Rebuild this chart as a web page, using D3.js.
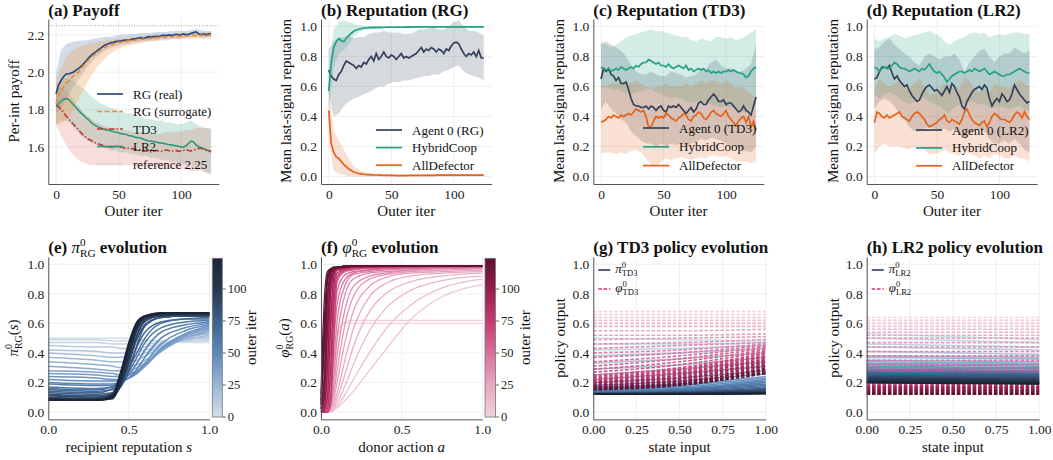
<!DOCTYPE html>
<html>
<head>
<meta charset="utf-8">
<script src="https://d3js.org/d3.v7.min.js"></script>
<style>
  body { margin: 0; background: #fff; }
  text { font-family: "Liberation Serif", "Times New Roman", serif; fill: #111; }
  .axis text { font-size: 13.5px; fill: #222; }
  .axis path.domain { stroke: #555; stroke-width: 1; }
  .grid line { stroke: #ebebeb; stroke-width: 0.8; }
  .title { font-size: 17px; font-weight: bold; }
  .lab { font-size: 15px; }
  .leg { font-size: 13px; }
  .cbt { font-size: 12.5px; fill: #222; }
  .mi { font-weight: normal; font-style: italic; }
  .ms { font-weight: normal; font-style: normal; }
</style>
</head>
<body>
<svg id="fig" width="1053" height="460"></svg>
<script>
// ---------- data: top row (iterations 0..124, lines every 2, bands every 4) ----------
var lineIters = d3.range(0, 125, 2);
var bandIters = d3.range(0, 125, 4);

// (a) payoff
var realA = [1.884,1.93,1.955,1.975,1.99,1.99,1.995,2.0,2.01,2.02,
  2.03,2.045,2.06,2.075,2.09,2.1,2.11,2.12,2.13,2.14,
  2.148,2.152,2.158,2.16,2.165,2.165,2.168,2.17,2.172,2.17,
  2.175,2.178,2.18,2.183,2.185,2.18,2.185,2.19,2.188,2.19,
  2.192,2.19,2.195,2.198,2.195,2.2,2.198,2.2,2.203,2.2,
  2.2,2.205,2.2,2.203,2.208,2.212,2.216,2.206,2.2,2.205,
  2.2,2.205,2.205];
var surA = [1.83,1.87,1.9,1.92,1.94,1.95,1.965,1.98,1.99,2.0,
  2.02,2.035,2.05,2.065,2.08,2.09,2.1,2.11,2.12,2.13,
  2.135,2.14,2.145,2.15,2.155,2.16,2.16,2.163,2.165,2.168,
  2.17,2.17,2.172,2.175,2.175,2.178,2.18,2.18,2.182,2.183,
  2.185,2.185,2.187,2.188,2.188,2.19,2.19,2.19,2.192,2.192,
  2.193,2.193,2.194,2.195,2.195,2.196,2.196,2.197,2.197,2.198,
  2.198,2.198,2.199];
var td3A = [1.82,1.815,1.8,1.785,1.765,1.75,1.735,1.72,1.705,1.69,
  1.675,1.66,1.65,1.64,1.635,1.625,1.62,1.615,1.61,1.605,
  1.6,1.602,1.598,1.6,1.605,1.6,1.598,1.595,1.59,1.592,
  1.588,1.59,1.585,1.582,1.58,1.575,1.578,1.575,1.572,1.575,
  1.58,1.578,1.575,1.578,1.582,1.58,1.575,1.578,1.58,1.575,
  1.578,1.58,1.585,1.58,1.578,1.582,1.585,1.59,1.592,1.588,
  1.585,1.58,1.575];
var lr2A = [1.82,1.83,1.845,1.855,1.858,1.855,1.84,1.825,1.81,1.795,
  1.78,1.77,1.755,1.745,1.73,1.72,1.712,1.705,1.7,1.695,
  1.69,1.688,1.685,1.68,1.678,1.675,1.67,1.668,1.665,1.66,
  1.658,1.655,1.65,1.648,1.645,1.64,1.635,1.632,1.63,1.628,
  1.625,1.622,1.62,1.618,1.615,1.612,1.61,1.608,1.605,1.602,
  1.6,1.598,1.605,1.618,1.63,1.625,1.61,1.6,1.595,1.59,
  1.582,1.578,1.572];
var realLo = [1.78,1.8,1.85,1.9,1.94,1.98,2.02,2.05, 2.08,2.1,2.12,2.13,2.14,2.145,2.15,2.155,
  2.16,2.165,2.165,2.17,2.17,2.175,2.175,2.18, 2.18,2.18,2.185,2.19,2.195,2.185,2.185,2.19];
var realHi = [1.99,2.12,2.15,2.16,2.165,2.17,2.17,2.175, 2.18,2.185,2.19,2.19,2.195,2.2,2.2,2.205,
  2.205,2.21,2.21,2.21,2.215,2.215,2.215,2.22, 2.22,2.22,2.22,2.225,2.23,2.225,2.22,2.22];
var surLo = [1.72,1.72,1.74,1.78,1.83,1.88,1.93,1.98, 2.02,2.05,2.08,2.1,2.12,2.13,2.14,2.145,
  2.15,2.155,2.16,2.165,2.165,2.17,2.17,2.175, 2.175,2.175,2.18,2.18,2.18,2.18,2.18,2.18];
var surHi = [1.94,2.02,2.08,2.11,2.13,2.14,2.15,2.155, 2.16,2.165,2.17,2.175,2.18,2.18,2.185,2.19,
  2.19,2.195,2.195,2.2,2.2,2.2,2.205,2.205, 2.205,2.21,2.21,2.21,2.21,2.215,2.215,2.215];
var td3Lo = [1.72,1.66,1.61,1.57,1.54,1.52,1.51,1.5, 1.5,1.5,1.5,1.5,1.5,1.5,1.5,1.5,
  1.49,1.49,1.49,1.49,1.49,1.48,1.48,1.48, 1.48,1.48,1.48,1.47,1.47,1.47,1.46,1.46];
var td3Hi = [1.9,1.92,1.9,1.87,1.83,1.8,1.77,1.75, 1.73,1.72,1.71,1.7,1.7,1.69,1.69,1.68,
  1.68,1.68,1.67,1.67,1.67,1.67,1.68,1.68, 1.68,1.68,1.69,1.69,1.7,1.7,1.7,1.69];
var lr2Lo = [1.72,1.74,1.74,1.72,1.69,1.66,1.64,1.62, 1.61,1.6,1.59,1.58,1.58,1.57,1.57,1.56,
  1.56,1.55,1.55,1.54,1.54,1.53,1.53,1.52, 1.52,1.51,1.5,1.5,1.49,1.48,1.46,1.45];
var lr2Hi = [1.9,1.95,1.97,1.96,1.94,1.92,1.9,1.87, 1.85,1.83,1.82,1.81,1.8,1.79,1.78,1.78,
  1.77,1.76,1.75,1.75,1.74,1.74,1.73,1.73, 1.72,1.72,1.73,1.74,1.72,1.71,1.7,1.7];
var refPayoff = 2.25;

// (b) reputation RG
var agentB = [0.71,0.67,0.65,0.64,0.68,0.7,0.74,0.77,0.76,0.75,
  0.74,0.72,0.74,0.73,0.76,0.75,0.78,0.8,0.77,0.82,
  0.78,0.8,0.83,0.8,0.79,0.81,0.8,0.78,0.8,0.82,
  0.79,0.8,0.79,0.8,0.81,0.82,0.84,0.86,0.83,0.85,
  0.84,0.86,0.85,0.83,0.85,0.84,0.82,0.85,0.84,0.87,
  0.89,0.895,0.885,0.85,0.82,0.8,0.82,0.81,0.83,0.8,
  0.84,0.79,0.79];
var hybB = [0.57,0.76,0.86,0.9,0.92,0.905,0.9,0.92,0.94,0.955,
  0.968,0.976,0.982,0.986,0.99,0.99,0.992,0.993,0.994,0.993,
  0.995,0.994,0.995,0.995,0.996,0.995,0.995,0.996,0.996,0.995,
  0.996,0.996,0.997,0.996,0.996,0.997,0.997,0.996,0.997,0.997,
  0.997,0.997,0.996,0.997,0.997,0.997,0.998,0.997,0.997,0.997,
  0.998,0.997,0.997,0.998,0.997,0.997,0.998,0.998,0.997,0.998,
  0.997,0.998,0.997];
var defB = [0.44,0.22,0.16,0.13,0.12,0.1,0.08,0.065,0.05,0.04,
  0.03,0.025,0.02,0.018,0.015,0.013,0.012,0.011,0.01,0.01,
  0.009,0.009,0.008,0.008,0.008,0.007,0.007,0.006,0.006,0.006,
  0.006,0.006,0.007,0.007,0.007,0.008,0.008,0.008,0.008,0.008,
  0.008,0.008,0.008,0.009,0.009,0.009,0.009,0.009,0.009,0.009,
  0.009,0.009,0.009,0.009,0.009,0.009,0.009,0.009,0.009,0.009,
  0.009,0.009,0.009];
var agentLoB = [0.55,0.4,0.42,0.47,0.5,0.52,0.53,0.55, 0.56,0.58,0.6,0.6,0.62,0.63,0.63,0.64,
  0.64,0.65,0.66,0.67,0.67,0.68,0.68,0.7, 0.71,0.73,0.74,0.7,0.68,0.67,0.66,0.64];
var agentHiB = [0.85,0.9,0.92,0.93,0.94,0.92,0.93,0.93, 0.95,0.96,0.96,0.97,0.96,0.96,0.96,0.95,
  0.95,0.96,0.98,0.98,0.99,0.99,0.98,0.98, 1.0,1.03,1.04,1.0,0.97,0.97,0.96,0.94];
var hybLoB = [0.45,0.72,0.82,0.84,0.88,0.93,0.96,0.975, 0.98,0.985,0.985,0.985,0.988,0.988,0.99,0.99,
  0.99,0.99,0.99,0.99,0.99,0.99,0.99,0.99, 0.99,0.99,0.99,0.99,0.99,0.99,0.99,0.99];
var hybHiB = [0.7,0.98,1.03,1.04,1.03,1.02,1.01,1.005, 1.005,1.003,1.003,1.003,1.003,1.003,1.003,1.003,
  1.003,1.003,1.003,1.003,1.003,1.003,1.003,1.003, 1.003,1.003,1.003,1.003,1.003,1.003,1.003,1.003];
var defLoB = [0.25,0.04,0.02,0.01,0,0,0,0, 0,0,0,0,0,0,0,0, 0,0,0,0,0,0,0,0, 0,0,0,0,0,0,0,0];
var defHiB = [0.6,0.3,0.24,0.18,0.12,0.07,0.045,0.03, 0.025,0.02,0.018,0.017,0.016,0.015,0.015,0.015,
  0.015,0.015,0.015,0.015,0.015,0.015,0.015,0.015, 0.015,0.015,0.015,0.015,0.015,0.015,0.015,0.015];

// (c) reputation TD3
var agentC = [0.65,0.72,0.7,0.72,0.68,0.67,0.64,0.66,0.62,0.62,
  0.63,0.58,0.52,0.48,0.47,0.47,0.46,0.46,0.47,0.45,
  0.47,0.46,0.44,0.46,0.47,0.44,0.43,0.47,0.46,0.47,
  0.46,0.48,0.46,0.44,0.42,0.44,0.46,0.43,0.45,0.49,
  0.5,0.48,0.48,0.51,0.53,0.55,0.53,0.5,0.5,0.51,
  0.48,0.49,0.49,0.47,0.45,0.43,0.44,0.47,0.44,0.43,
  0.41,0.47,0.53];
var hybC = [0.73,0.72,0.71,0.72,0.7,0.71,0.72,0.71,0.73,0.72,
  0.71,0.72,0.73,0.72,0.74,0.73,0.75,0.76,0.76,0.78,
  0.77,0.76,0.75,0.76,0.74,0.74,0.73,0.75,0.73,0.72,
  0.73,0.74,0.73,0.72,0.74,0.71,0.72,0.7,0.71,0.72,
  0.71,0.72,0.7,0.71,0.69,0.7,0.69,0.7,0.69,0.7,
  0.7,0.71,0.7,0.71,0.7,0.69,0.69,0.68,0.66,0.67,
  0.7,0.72,0.73];
var defC = [0.36,0.37,0.38,0.4,0.39,0.41,0.4,0.39,0.41,0.4,
  0.41,0.42,0.41,0.43,0.45,0.44,0.43,0.44,0.4,0.33,
  0.33,0.37,0.4,0.39,0.4,0.39,0.42,0.41,0.39,0.38,
  0.37,0.39,0.4,0.42,0.41,0.38,0.37,0.4,0.41,0.43,
  0.42,0.39,0.38,0.4,0.43,0.44,0.42,0.41,0.4,0.42,
  0.44,0.4,0.38,0.36,0.34,0.37,0.39,0.4,0.36,0.4,
  0.33,0.37,0.31];
var hybLoC = [0.58,0.6,0.58,0.58,0.57,0.55,0.55,0.56, 0.57,0.58,0.58,0.56,0.55,0.53,0.52,0.53,
  0.52,0.5,0.49,0.5,0.5,0.49,0.48,0.47, 0.46,0.47,0.46,0.45,0.44,0.42,0.45,0.48];
var hybHiC = [0.9,0.88,0.86,0.88,0.9,0.93,0.94,0.95, 0.96,0.97,0.98,0.97,0.97,0.96,0.95,0.94,
  0.93,0.93,0.91,0.9,0.92,0.91,0.9,0.93, 0.93,0.92,0.93,0.91,0.92,0.94,0.96,0.98];
var agentLoC = [0.45,0.5,0.45,0.42,0.38,0.36,0.3,0.27, 0.24,0.22,0.22,0.2,0.22,0.2,0.22,0.21,
  0.22,0.2,0.22,0.23,0.25,0.24,0.26,0.25, 0.24,0.22,0.2,0.2,0.18,0.17,0.16,0.2];
var agentHiC = [0.88,0.9,0.88,0.86,0.84,0.8,0.74,0.7, 0.68,0.68,0.7,0.68,0.67,0.67,0.7,0.69,
  0.68,0.66,0.67,0.68,0.72,0.72,0.76,0.78, 0.74,0.72,0.72,0.7,0.7,0.72,0.75,0.88];
var defLoC = [0.15,0.16,0.16,0.15,0.16,0.15,0.17,0.18, 0.16,0.12,0.08,0.06,0.1,0.12,0.11,0.12,
  0.13,0.12,0.11,0.12,0.13,0.12,0.14,0.14, 0.13,0.14,0.12,0.1,0.1,0.1,0.09,0.1];
var defHiC = [0.6,0.6,0.62,0.62,0.63,0.62,0.62,0.64, 0.62,0.6,0.58,0.6,0.6,0.62,0.6,0.6,
  0.6,0.62,0.6,0.62,0.64,0.62,0.64,0.64, 0.62,0.64,0.62,0.58,0.6,0.58,0.55,0.52];

// (d) reputation LR2
var agentD = [0.65,0.66,0.7,0.73,0.73,0.72,0.74,0.69,0.65,0.67,
  0.64,0.62,0.6,0.61,0.57,0.54,0.52,0.5,0.51,0.55,
  0.58,0.6,0.61,0.59,0.57,0.58,0.56,0.54,0.57,0.6,
  0.56,0.62,0.6,0.56,0.53,0.47,0.45,0.5,0.53,0.56,
  0.58,0.59,0.6,0.58,0.61,0.59,0.52,0.47,0.5,0.52,
  0.5,0.55,0.53,0.5,0.51,0.55,0.61,0.58,0.55,0.53,
  0.51,0.49,0.5];
var hybD = [0.73,0.72,0.7,0.72,0.73,0.72,0.72,0.74,0.76,0.75,
  0.73,0.72,0.72,0.71,0.7,0.71,0.72,0.71,0.7,0.72,
  0.71,0.73,0.75,0.72,0.7,0.69,0.7,0.68,0.66,0.63,
  0.65,0.67,0.68,0.69,0.7,0.7,0.69,0.7,0.71,0.7,
  0.72,0.71,0.7,0.71,0.72,0.7,0.68,0.69,0.7,0.69,
  0.68,0.67,0.67,0.68,0.68,0.69,0.7,0.71,0.72,0.71,
  0.7,0.69,0.69];
var defD = [0.36,0.43,0.42,0.4,0.39,0.41,0.39,0.4,0.41,0.42,
  0.43,0.4,0.39,0.38,0.37,0.4,0.42,0.43,0.42,0.4,
  0.38,0.35,0.33,0.34,0.35,0.36,0.38,0.39,0.41,0.37,
  0.36,0.38,0.37,0.36,0.35,0.38,0.43,0.45,0.41,0.38,
  0.36,0.35,0.34,0.36,0.37,0.33,0.36,0.4,0.42,0.41,
  0.39,0.38,0.38,0.37,0.36,0.38,0.41,0.43,0.42,0.39,
  0.43,0.4,0.38];
var hybLoD = [0.55,0.52,0.55,0.56,0.55,0.52,0.5,0.48, 0.5,0.52,0.52,0.5,0.48,0.47,0.44,0.43,
  0.46,0.48,0.48,0.5,0.5,0.48,0.48,0.46, 0.46,0.47,0.46,0.45,0.46,0.47,0.45,0.44];
var hybHiD = [0.92,0.9,0.92,0.93,0.95,0.94,0.92,0.93, 0.94,0.95,0.96,0.97,0.95,0.94,0.9,0.88,
  0.9,0.92,0.93,0.95,0.96,0.95,0.96,0.93, 0.94,0.95,0.94,0.95,0.96,0.96,0.95,0.95];
var agentLoD = [0.45,0.5,0.52,0.5,0.47,0.42,0.38,0.33, 0.3,0.3,0.32,0.33,0.32,0.3,0.32,0.3,
  0.32,0.28,0.25,0.28,0.3,0.32,0.3,0.25, 0.22,0.22,0.24,0.22,0.25,0.22,0.18,0.16];
var agentHiD = [0.85,0.86,0.9,0.92,0.88,0.85,0.82,0.8, 0.76,0.74,0.8,0.82,0.8,0.78,0.8,0.8,
  0.82,0.78,0.7,0.76,0.8,0.84,0.85,0.8, 0.76,0.8,0.82,0.82,0.86,0.84,0.82,0.84];
var defLoD = [0.15,0.2,0.22,0.2,0.2,0.2,0.19,0.18, 0.2,0.2,0.18,0.15,0.15,0.16,0.18,0.16,
  0.15,0.14,0.18,0.15,0.14,0.12,0.14,0.12, 0.15,0.14,0.12,0.12,0.14,0.12,0.12,0.1];
var defHiD = [0.58,0.65,0.62,0.6,0.62,0.64,0.6,0.58, 0.62,0.65,0.6,0.55,0.55,0.58,0.62,0.58,
  0.6,0.58,0.66,0.64,0.58,0.56,0.58,0.56, 0.62,0.6,0.6,0.58,0.62,0.64,0.62,0.6];

// ---------- data: bottom row (one curve every 4 outer iterations) ----------
var curveIters = d3.range(0, 125, 4);

// (e) pi_RG(s), sampled at piX
var piX = [0, 0.3, 0.4, 0.45, 0.5, 0.55, 0.6, 0.7, 0.85, 1];
var piCurves = [
  [0.50,0.50,0.50,0.50,0.50,0.49,0.49,0.48,0.47,0.47],
  [0.49,0.49,0.48,0.48,0.48,0.48,0.48,0.48,0.48,0.48],
  [0.47,0.47,0.46,0.46,0.46,0.46,0.46,0.47,0.48,0.49],
  [0.45,0.44,0.44,0.43,0.43,0.43,0.44,0.46,0.49,0.50],
  [0.42,0.41,0.40,0.40,0.40,0.41,0.42,0.45,0.49,0.51],
  [0.40,0.38,0.37,0.37,0.37,0.38,0.40,0.44,0.49,0.52],
  [0.37,0.35,0.34,0.34,0.34,0.35,0.38,0.43,0.50,0.53],
  [0.34,0.32,0.31,0.30,0.31,0.32,0.35,0.42,0.50,0.54],
  [0.31,0.29,0.28,0.28,0.28,0.30,0.33,0.41,0.50,0.55],
  [0.28,0.27,0.26,0.25,0.26,0.28,0.32,0.41,0.51,0.56],
  [0.26,0.25,0.24,0.24,0.25,0.27,0.31,0.42,0.52,0.57],
  [0.24,0.23,0.22,0.22,0.23,0.26,0.31,0.43,0.53,0.58],
  [0.22,0.21,0.21,0.21,0.23,0.27,0.33,0.46,0.55,0.59],
  [0.20,0.19,0.19,0.20,0.23,0.29,0.37,0.50,0.57,0.60],
  [0.19,0.18,0.18,0.20,0.25,0.33,0.42,0.54,0.59,0.61],
  [0.17,0.16,0.17,0.20,0.27,0.37,0.47,0.57,0.61,0.62],
  [0.16,0.15,0.17,0.22,0.30,0.40,0.50,0.60,0.63,0.63],
  [0.15,0.14,0.15,0.20,0.30,0.44,0.54,0.61,0.63,0.64],
  [0.14,0.13,0.16,0.24,0.36,0.50,0.59,0.64,0.65,0.65],
  [0.13,0.12,0.13,0.20,0.33,0.49,0.59,0.64,0.65,0.65],
  [0.12,0.11,0.12,0.17,0.28,0.45,0.58,0.64,0.65,0.65],
  [0.115,0.10,0.12,0.20,0.35,0.52,0.61,0.65,0.65,0.65],
  [0.11,0.10,0.13,0.24,0.41,0.56,0.63,0.65,0.66,0.66],
  [0.10,0.09,0.11,0.21,0.38,0.55,0.63,0.65,0.66,0.66],
  [0.095,0.09,0.10,0.18,0.33,0.52,0.62,0.66,0.66,0.66],
  [0.09,0.085,0.10,0.22,0.40,0.57,0.64,0.66,0.66,0.66],
  [0.09,0.085,0.12,0.27,0.45,0.60,0.65,0.66,0.66,0.66],
  [0.085,0.08,0.10,0.23,0.42,0.58,0.64,0.66,0.67,0.67],
  [0.08,0.08,0.09,0.20,0.38,0.56,0.64,0.66,0.67,0.67],
  [0.08,0.08,0.10,0.24,0.43,0.59,0.65,0.67,0.67,0.67],
  [0.08,0.08,0.11,0.27,0.47,0.61,0.65,0.67,0.67,0.67],
  [0.08,0.08,0.10,0.25,0.45,0.60,0.65,0.67,0.67,0.67]
];

// (f) phi_RG(a), sampled at phiX
var phiX = [0, 0.02, 0.04, 0.06, 0.08, 0.1, 0.15, 0.2, 0.3, 0.4, 0.55, 0.75, 1];
var phiCurves = [
  [0,0,0.02,0.1,0.35,0.55,0.6,0.6,0.6,0.6,0.6,0.6,0.6],
  [0,0,0.01,0.06,0.25,0.5,0.61,0.62,0.62,0.62,0.62,0.62,0.62],
  [0,0,0,0,0.01,0.03,0.08,0.14,0.28,0.42,0.62,0.78,0.86],
  [0,0,0,0,0.02,0.04,0.12,0.22,0.4,0.56,0.72,0.84,0.9],
  [0,0,0,0.01,0.03,0.06,0.18,0.32,0.55,0.7,0.82,0.89,0.92],
  [0,0,0,0.01,0.04,0.09,0.26,0.44,0.68,0.8,0.88,0.92,0.94],
  [0,0,0,0.02,0.06,0.13,0.36,0.56,0.78,0.87,0.92,0.94,0.95],
  [0,0,0.01,0.03,0.09,0.2,0.48,0.68,0.85,0.91,0.94,0.95,0.96],
  [0,0,0.01,0.04,0.13,0.28,0.6,0.78,0.9,0.93,0.95,0.96,0.97],
  [0,0,0.02,0.06,0.18,0.38,0.7,0.85,0.92,0.94,0.96,0.97,0.97],
  [0,0,0.02,0.09,0.26,0.5,0.8,0.9,0.94,0.95,0.96,0.97,0.98],
  [0,0.01,0.03,0.13,0.36,0.62,0.86,0.93,0.95,0.96,0.97,0.98,0.98],
  [0,0.01,0.05,0.2,0.48,0.73,0.9,0.94,0.96,0.97,0.97,0.98,0.98],
  [0,0.01,0.07,0.3,0.6,0.82,0.93,0.95,0.96,0.97,0.98,0.98,0.98],
  [0,0.02,0.1,0.42,0.72,0.88,0.95,0.96,0.97,0.97,0.98,0.98,0.99],
  [0,0.02,0.15,0.55,0.82,0.92,0.96,0.97,0.97,0.98,0.98,0.98,0.99],
  [0,0.03,0.22,0.68,0.89,0.94,0.96,0.97,0.98,0.98,0.98,0.99,0.99],
  [0,0,0,0.05,0.5,0.9,0.96,0.97,0.98,0.98,0.98,0.99,0.99],
  [0,0.05,0.35,0.8,0.93,0.96,0.97,0.98,0.98,0.98,0.99,0.99,0.99],
  [0,0,0,0.1,0.7,0.94,0.97,0.98,0.98,0.98,0.99,0.99,0.99],
  [0,0.08,0.5,0.88,0.95,0.97,0.97,0.98,0.98,0.99,0.99,0.99,0.99],
  [0,0,0.02,0.3,0.85,0.96,0.97,0.98,0.98,0.99,0.99,0.99,0.99],
  [0.02,0.15,0.65,0.92,0.96,0.97,0.98,0.98,0.99,0.99,0.99,0.99,0.99],
  [0,0.01,0.1,0.6,0.92,0.97,0.98,0.98,0.99,0.99,0.99,0.99,0.99],
  [0.03,0.25,0.78,0.95,0.97,0.98,0.98,0.99,0.99,0.99,0.99,0.99,0.99],
  [0,0.03,0.3,0.82,0.95,0.97,0.98,0.99,0.99,0.99,0.99,0.99,0.99],
  [0.05,0.4,0.88,0.96,0.97,0.98,0.98,0.99,0.99,0.99,0.99,0.99,0.99],
  [0.01,0.1,0.55,0.9,0.96,0.97,0.98,0.99,0.99,0.99,0.99,0.99,0.99],
  [0.08,0.6,0.93,0.97,0.98,0.98,0.99,0.99,0.99,0.99,0.99,0.99,0.99],
  [0.02,0.2,0.75,0.94,0.97,0.98,0.98,0.99,0.99,0.99,0.99,0.99,0.99],
  [0.12,0.75,0.95,0.97,0.98,0.98,0.99,0.99,0.99,0.99,0.99,0.99,0.99],
  [0.05,0.5,0.9,0.96,0.97,0.98,0.98,0.99,0.99,0.99,0.99,0.99,0.99]
];

// (g), (h) policy outputs at state input polX
var polX = [0, 0.5, 1];
var td3Pi = [
  [0.5,0.49,0.48],[0.46,0.46,0.47],[0.42,0.43,0.45],[0.38,0.4,0.43],[0.33,0.36,0.4],
  [0.29,0.32,0.37],[0.25,0.29,0.34],[0.22,0.26,0.31],[0.2,0.23,0.28],[0.18,0.21,0.26],
  [0.17,0.19,0.24],[0.16,0.18,0.23],[0.15,0.17,0.22],[0.145,0.16,0.21],[0.14,0.155,0.2],
  [0.135,0.15,0.19],[0.13,0.145,0.18],[0.13,0.14,0.17],[0.128,0.137,0.16],[0.126,0.134,0.155],
  [0.125,0.132,0.15],[0.124,0.13,0.145],[0.123,0.128,0.14],[0.122,0.127,0.137],[0.121,0.126,0.134],
  [0.12,0.125,0.132],[0.12,0.124,0.13],[0.12,0.123,0.128],[0.12,0.122,0.127],[0.12,0.122,0.126],
  [0.12,0.121,0.125],[0.12,0.121,0.124]
];
var td3Phi = [
  [0.68,0.68,0.68],[0.66,0.66,0.66],[0.64,0.64,0.64],[0.62,0.62,0.62],[0.6,0.6,0.6],
  [0.58,0.58,0.58],[0.55,0.55,0.56],[0.52,0.52,0.53],[0.49,0.5,0.51],[0.46,0.47,0.49],
  [0.43,0.45,0.47],[0.4,0.42,0.46],[0.37,0.4,0.45],[0.34,0.38,0.44],[0.31,0.36,0.43],
  [0.29,0.34,0.42],[0.27,0.32,0.41],[0.25,0.3,0.4],[0.24,0.29,0.39],[0.23,0.28,0.38],
  [0.22,0.27,0.37],[0.21,0.26,0.36],[0.2,0.25,0.35],[0.2,0.24,0.34],[0.19,0.23,0.33],
  [0.18,0.22,0.32],[0.18,0.21,0.31],[0.17,0.2,0.3],[0.17,0.2,0.29],[0.16,0.19,0.28],
  [0.16,0.19,0.27],[0.15,0.18,0.26]
];
var lr2Pi = [
  [0.53,0.51,0.49],[0.5,0.485,0.47],[0.46,0.45,0.44],[0.44,0.43,0.42],[0.41,0.4,0.39],
  [0.38,0.375,0.37],[0.37,0.365,0.36],[0.35,0.345,0.34],[0.34,0.335,0.33],[0.33,0.325,0.32],
  [0.32,0.315,0.31],[0.31,0.305,0.3],[0.3,0.296,0.292],[0.29,0.286,0.282],[0.285,0.281,0.277],
  [0.28,0.276,0.272],[0.272,0.268,0.264],[0.266,0.262,0.258],[0.26,0.256,0.252],[0.254,0.25,0.246],
  [0.248,0.244,0.24],[0.242,0.238,0.234],[0.236,0.232,0.228],[0.23,0.226,0.222],[0.225,0.221,0.217],
  [0.22,0.216,0.212],[0.215,0.211,0.207],[0.21,0.206,0.202],[0.206,0.202,0.198],[0.203,0.199,0.195],
  [0.2,0.196,0.192],[0.198,0.194,0.19]
];
var lr2Phi = [
  [0.64,0.64,0.64],[0.62,0.62,0.62],[0.6,0.6,0.6],[0.58,0.58,0.58],[0.56,0.56,0.56],
  [0.54,0.54,0.54],[0.52,0.52,0.52],[0.5,0.5,0.5],[0.47,0.47,0.47],[0.44,0.44,0.44],
  [0.41,0.41,0.41],[0.38,0.38,0.38],[0.35,0.35,0.35],[0.32,0.32,0.32],[0.3,0.3,0.3],
  [0.28,0.28,0.28],[0.26,0.26,0.26],[0.24,0.24,0.24],[0.22,0.22,0.22],[0.21,0.21,0.21],
  [0.2,0.2,0.2],[0.19,0.19,0.19],[0.18,0.18,0.18],[0.17,0.17,0.17],[0.165,0.165,0.165],
  [0.16,0.16,0.16],[0.15,0.15,0.15],[0.145,0.145,0.145],[0.14,0.14,0.14],[0.13,0.13,0.13],
  [0.125,0.125,0.125],[0.12,0.12,0.12]
];

var cbTicks = [0, 25, 50, 75, 100];

// ---------- colours ----------
var C = { real: "#2b4a7b", sur: "#ee8a35", td3: "#c0392b", lr2: "#2a9a78",
          agent: "#344158", hyb: "#25a183", def: "#e3621c" };
var blueStops = ["#d5dfeb", "#9ab6d4", "#5d89bd", "#3e6089", "#273850", "#1b2435"];
var pinkStops = ["#f3d3df", "#e8a6c1", "#d8709b", "#c53a71", "#931f4f", "#5c1030"];
var stopIters = [0, 25, 50, 75, 100, 124];
var cBlue = d3.scaleLinear().domain(stopIters).range(blueStops);
var cPink = d3.scaleLinear().domain(stopIters).range(pinkStops);

var fig = d3.select("#fig");

function panel(o) {
  var x = d3.scaleLinear().domain(o.xd).range([o.l, o.r]);
  var y = d3.scaleLinear().domain(o.yd).range([o.b, o.t]);
  var g = fig.append("g");
  g.append("g").attr("class", "grid").selectAll("line").data(o.xt).join("line")
    .attr("x1", d => x(d)).attr("x2", d => x(d)).attr("y1", o.t).attr("y2", o.b);
  g.append("g").attr("class", "grid").selectAll("line").data(o.yt).join("line")
    .attr("x1", o.l).attr("x2", o.r).attr("y1", d => y(d)).attr("y2", d => y(d));
  var body = g.append("g");
  g.append("g").attr("class", "axis").attr("transform", "translate(0," + o.b + ")")
    .call(d3.axisBottom(x).tickValues(o.xt).tickFormat(o.xf).tickSize(0).tickPadding(5));
  g.append("g").attr("class", "axis").attr("transform", "translate(" + o.l + ",0)")
    .call(d3.axisLeft(y).tickValues(o.yt).tickFormat(d3.format(".1f")).tickSize(0).tickPadding(4));
  return { g: g, body: body, x: x, y: y, o: o };
}

function line(p, xs, ys, color, w, dash) {
  p.body.append("path").datum(ys)
    .attr("fill", "none").attr("stroke", color).attr("stroke-width", w)
    .attr("stroke-dasharray", dash || null)
    .attr("d", d3.line().x((d, i) => p.x(xs[i])).y(d => p.y(d)));
}
function band(p, xs, lo, hi, color, op) {
  p.body.append("path").datum(lo)
    .attr("fill", color).attr("fill-opacity", op).attr("stroke", "none")
    .attr("d", d3.area().x((d, i) => p.x(xs[i])).y0(d => p.y(d)).y1((d, i) => p.y(hi[i])));
}
function legend(x0, y0, dy, items) {
  items.forEach(function (it, i) {
    var yy = y0 + i * dy;
    fig.append("line").attr("x1", x0).attr("x2", x0 + 26).attr("y1", yy).attr("y2", yy)
      .attr("stroke", it.c).attr("stroke-width", it.w || 1.7).attr("stroke-dasharray", it.dash || null);
    fig.append("text").attr("class", "leg").attr("x", x0 + 36).attr("y", yy + 4.5).text(it.t);
  });
}
function title(x, y, s) {
  return fig.append("text").attr("class", "title").attr("x", x).attr("y", y).text(s);
}
function xlabel(p, y, s) {
  return fig.append("text").attr("class", "lab").attr("text-anchor", "middle")
    .attr("x", (p.o.l + p.o.r) / 2).attr("y", y).text(s);
}
function ylabel(x, yc, s) {
  return fig.append("text").attr("class", "lab").attr("text-anchor", "middle")
    .attr("transform", "translate(" + x + "," + yc + ") rotate(-90)").text(s);
}
// symbol with stacked superscript and subscript
function mathSym(t, sym, sup, sub, size) {
  var s = size * 0.66;
  t.append("tspan").attr("class", "mi").style("font-size", size + "px").text(sym);
  t.append("tspan").attr("class", "ms").style("font-size", s + "px").attr("dy", -size * 0.42).text(sup);
  t.append("tspan").attr("class", "ms").style("font-size", s + "px")
    .attr("dx", -s * 0.5).attr("dy", size * 0.66).text(sub);
  return size * 0.24; // dy needed to return to baseline
}

// ---------- top row ----------
var topT = 19, topB = 184;
var iterDom = [-6.2, 130.2], iterTicks = [0, 50, 100];
var repTicks = [0, 0.2, 0.4, 0.6, 0.8, 1.0];
var fmtInt = d3.format("d");

var pa = panel({ l: 48.3, r: 218.8, t: topT, b: topB, xd: iterDom, yd: [1.40, 2.285],
  xt: iterTicks, yt: [1.6, 1.8, 2.0, 2.2], xf: fmtInt });
band(pa, bandIters, lr2Lo, lr2Hi, C.lr2, 0.2);
band(pa, bandIters, td3Lo, td3Hi, "#d9534f", 0.2);
band(pa, bandIters, realLo, realHi, "#4a6fa5", 0.25);
band(pa, bandIters, surLo, surHi, "#f0a050", 0.3);
pa.body.append("line").attr("x1", pa.o.l).attr("x2", pa.o.r)
  .attr("y1", pa.y(refPayoff)).attr("y2", pa.y(refPayoff))
  .attr("stroke", "#b5b5b5").attr("stroke-width", 1.2).attr("stroke-dasharray", "1,1.6");
line(pa, lineIters, lr2A, C.lr2, 1.6);
line(pa, lineIters, td3A, C.td3, 1.6, "6,2,1.5,2");
line(pa, lineIters, realA, C.real, 1.7);
line(pa, lineIters, surA, C.sur, 1.6, "5,2.5");
legend(97, 94, 17.5, [
  { t: "RG (real)", c: C.real },
  { t: "RG (surrogate)", c: C.sur, dash: "5,2.5" },
  { t: "TD3", c: C.td3, dash: "6,2,1.5,2" },
  { t: "LR2", c: C.lr2 },
  { t: "reference 2.25", c: "#b5b5b5", dash: "1,1.6", w: 1.2 }
]);
title(48.3, 16, "(a) Payoff");
xlabel(pa, 215.5, "Outer iter");
ylabel(19, 101, "Per-int payoff");

function repPanel(l, agent, hyb, def, bands, ttl, ylx) {
  var p = panel({ l: l, r: l + 170.5, t: topT, b: topB, xd: iterDom, yd: [-0.05, 1.05],
    xt: iterTicks, yt: repTicks, xf: fmtInt });
  band(p, bandIters, bands[0], bands[1], C.agent, 0.2);
  band(p, bandIters, bands[2], bands[3], C.hyb, 0.2);
  band(p, bandIters, bands[4], bands[5], C.def, 0.2);
  line(p, lineIters, agent, C.agent, 1.7);
  line(p, lineIters, hyb, C.hyb, 1.7);
  line(p, lineIters, def, C.def, 1.7);
  title(l, 16, ttl);
  xlabel(p, 215.5, "Outer iter");
  ylabel(ylx, 101, "Mean last-signal reputation");
  return p;
}
repPanel(321, agentB, hybB, defB, [agentLoB, agentHiB, hybLoB, hybHiB, defLoB, defHiB],
  "(b) Reputation (RG)", 291);
legend(376, 130, 17.6, [{ t: "Agent 0 (RG)", c: C.agent }, { t: "HybridCoop", c: C.hyb }, { t: "AllDefector", c: C.def }]);
repPanel(593.3, agentC, hybC, defC, [agentLoC, agentHiC, hybLoC, hybHiC, defLoC, defHiC],
  "(c) Reputation (TD3)", 564);
legend(643, 128, 18.8, [{ t: "Agent 0 (TD3)", c: C.agent }, { t: "HybridCoop", c: C.hyb }, { t: "AllDefector", c: C.def }]);
repPanel(866.7, agentD, hybD, defD, [agentLoD, agentHiD, hybLoD, hybHiD, defLoD, defHiD],
  "(d) Reputation (LR2)", 838);
legend(916, 130, 17.9, [{ t: "Agent 0 (LR2)", c: C.agent }, { t: "HybridCoop", c: C.hyb }, { t: "AllDefector", c: C.def }]);

// ---------- bottom row ----------
var botT = 256.9, botB = 419.4;
var unitTicks = [0, 0.2, 0.4, 0.6, 0.8, 1.0];

function colorbar(x0, x1, stops, id, labX) {
  var cy = d3.scaleLinear().domain([0, 124]).range([417, 258.3]);
  var grad = fig.append("defs").append("linearGradient").attr("id", id)
    .attr("x1", 0).attr("x2", 0).attr("y1", 1).attr("y2", 0);
  grad.selectAll("stop").data(stops).join("stop")
    .attr("offset", (d, i) => stopIters[i] / 124).attr("stop-color", d => d);
  fig.append("rect").attr("x", x0).attr("y", cy(124)).attr("width", x1 - x0).attr("height", cy(0) - cy(124))
    .attr("fill", "url(#" + id + ")").attr("stroke", "#777").attr("stroke-width", 0.8);
  fig.selectAll(null).data(cbTicks).join("line")
    .attr("x1", x1).attr("x2", x1 + 3.5).attr("y1", d => cy(d)).attr("y2", d => cy(d))
    .attr("stroke", "#444").attr("stroke-width", 0.8);
  fig.selectAll(null).data(cbTicks).join("text").attr("class", "cbt")
    .attr("x", x1 + 5.5).attr("y", d => cy(d) + 4.3).text(d => d);
  fig.append("text").attr("class", "lab").attr("text-anchor", "middle")
    .attr("transform", "translate(" + labX + "," + cy(62) + ") rotate(-90)").text("outer iter");
}

var curveLine = function (p, xs) {
  return d3.line().x((d, i) => p.x(xs[i])).y(d => p.y(d)).curve(d3.curveMonotoneX);
};

// (e)
var pe = panel({ l: 48.3, r: 209.3, t: botT, b: botB, xd: [0, 1], yd: [-0.05, 1.05],
  xt: [0, 0.5, 1], yt: unitTicks, xf: d3.format(".1f") });
pe.body.selectAll("path.pi").data(piCurves).join("path").attr("class", "pi")
  .attr("fill", "none").attr("stroke-width", 1.5)
  .attr("stroke", (d, i) => cBlue(curveIters[i]))
  .attr("d", curveLine(pe, piX));
colorbar(212.3, 222.3, blueStops, "gBlue", 256);
var te = title(48.3, 253, "(e) ");
var back = mathSym(te, "\u03c0", "0", "RG", 17);
te.append("tspan").attr("dy", -back).text(" evolution");
var xe = xlabel(pe, 452, "recipient reputation ");
xe.append("tspan").attr("class", "mi").text("s");
var ye = ylabel(18, 338, "");
back = mathSym(ye, "\u03c0", "0", "RG", 15);
ye.append("tspan").attr("dy", -back).text("(");
ye.append("tspan").attr("class", "mi").text("s");
ye.append("tspan").text(")");

// (f)
var pf = panel({ l: 321, r: 482.3, t: botT, b: botB, xd: [0, 1], yd: [-0.05, 1.05],
  xt: [0, 0.5, 1], yt: unitTicks, xf: d3.format(".1f") });
pf.body.selectAll("path.phi").data(phiCurves).join("path").attr("class", "phi")
  .attr("fill", "none").attr("stroke-width", 1.3)
  .attr("stroke", (d, i) => cPink(curveIters[i]))
  .attr("d", curveLine(pf, phiX));
colorbar(485, 495.5, pinkStops, "gPink", 530);
var tf = title(321, 253, "(f) ");
back = mathSym(tf, "\u03c6", "0", "RG", 17);
tf.append("tspan").attr("dy", -back).text(" evolution");
var xf = xlabel(pf, 452, "donor action ");
xf.append("tspan").attr("class", "mi").text("a");
var yf = ylabel(289, 338, "");
back = mathSym(yf, "\u03c6", "0", "RG", 15);
yf.append("tspan").attr("dy", -back).text("(");
yf.append("tspan").attr("class", "mi").text("a");
yf.append("tspan").text(")");

// (g), (h)
function policyPanel(l, piData, phiData, ttl, tag, ylx) {
  var p = panel({ l: l, r: l + 172.5, t: botT, b: botB, xd: [0, 1], yd: [-0.05, 1.05],
    xt: [0, 0.25, 0.5, 0.75, 1], yt: unitTicks, xf: d3.format(".2f") });
  var ln = curveLine(p, polX);
  curveIters.forEach(function (it, i) {
    p.body.append("path").datum(piData[i]).attr("fill", "none")
      .attr("stroke", cBlue(it)).attr("stroke-width", 1.6).attr("d", ln);
    p.body.append("path").datum(phiData[i]).attr("fill", "none")
      .attr("stroke", cPink(it)).attr("stroke-width", 1.6).attr("stroke-dasharray", "3.5,1.8").attr("d", ln);
  });
  title(l, 253, ttl);
  xlabel(p, 452, "state input");
  ylabel(ylx, 338, "policy output");
  // legend
  var lx = l + 5, items = [["\u03c0", "#1f2f4a", null], ["\u03c6", "#d6336c", "3.5,1.8"]];
  items.forEach(function (it, k) {
    var yy = 270 + k * 19;
    fig.append("line").attr("x1", lx).attr("x2", lx + 12).attr("y1", yy).attr("y2", yy)
      .attr("stroke", it[1]).attr("stroke-width", 1.5).attr("stroke-dasharray", it[2]);
    var t = fig.append("text").attr("class", "leg").attr("x", lx + 17).attr("y", yy + 3);
    mathSym(t, it[0], "0", tag, 13);
  });
}
policyPanel(593.3, td3Pi, td3Phi, "(g) TD3 policy evolution", "TD3", 565);
policyPanel(866.7, lr2Pi, lr2Phi, "(h) LR2 policy evolution", "LR2", 839);
</script>
</body>
</html>
